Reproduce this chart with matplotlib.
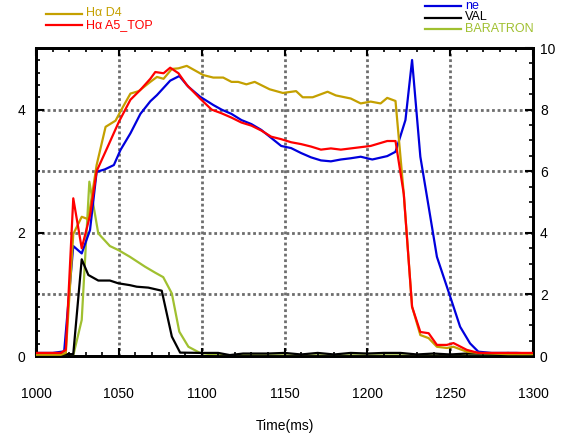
import matplotlib
matplotlib.use("Agg")
import matplotlib.pyplot as plt
from matplotlib.lines import Line2D
from matplotlib.ticker import MultipleLocator

plt.rcParams['font.family'] = ['Liberation Sans', 'DejaVu Sans']

# ---------------- data ----------------
t_d4 = [1000, 1005, 1010, 1015, 1018, 1022.5, 1027.6, 1031.6, 1036.6, 1042, 1048, 1052, 1057, 1062,
        1069, 1073, 1077, 1082, 1086, 1091, 1101, 1107, 1113, 1118, 1122, 1127, 1132, 1141, 1149,
        1157, 1161, 1167, 1171, 1176, 1181, 1190, 1196, 1202, 1208, 1212, 1217, 1222, 1227, 1232,
        1237, 1242, 1248, 1252, 1260, 1267, 1275, 1285, 1300]
v_d4 = [0.02, 0.02, 0.02, 0.02, 0.05, 1.98, 2.26, 2.22, 3.1, 3.72, 3.82, 4.02, 4.26, 4.3,
        4.45, 4.53, 4.5, 4.66, 4.67, 4.71, 4.56, 4.52, 4.52, 4.45, 4.45, 4.41, 4.45, 4.33, 4.27,
        4.3, 4.2, 4.2, 4.24, 4.29, 4.23, 4.18, 4.1, 4.13, 4.1, 4.19, 4.14, 2.63, 0.8, 0.34,
        0.29, 0.15, 0.13, 0.15, 0.07, 0.05, 0.04, 0.03, 0.03]

t_a5 = [1000, 1010, 1015, 1018, 1022.5, 1027.6, 1032.6, 1036.6, 1043, 1050, 1057, 1063, 1069, 1072,
        1077, 1081, 1086, 1091, 1099, 1106, 1112, 1118, 1124, 1130, 1136, 1142, 1148, 1154, 1160,
        1166, 1172, 1178, 1184, 1190, 1196, 1202, 1212, 1217, 1222, 1227, 1232, 1237, 1242, 1248,
        1252, 1260, 1267, 1280, 1300]
v_a5 = [0.05, 0.05, 0.05, 0.1, 2.56, 1.75, 2.28, 3.0, 3.38, 3.8, 4.16, 4.32, 4.5, 4.61,
        4.59, 4.68, 4.59, 4.4, 4.18, 4.0, 3.94, 3.87, 3.79, 3.74, 3.66, 3.56, 3.52, 3.47, 3.44,
        3.40, 3.35, 3.37, 3.35, 3.37, 3.39, 3.41, 3.49, 3.49, 2.63, 0.8, 0.39, 0.37, 0.18, 0.18,
        0.21, 0.1, 0.05, 0.05, 0.05]

t_ne = [1000, 1010, 1017, 1022.5, 1027.6, 1032.6, 1036.6, 1041.6, 1047, 1051, 1057, 1063, 1069, 1073,
        1081, 1086.5, 1092, 1099, 1107, 1112, 1118, 1124, 1130, 1136, 1142, 1148, 1154, 1160, 1166,
        1172, 1178, 1184, 1190, 1196, 1203, 1212, 1217, 1223, 1227, 1232, 1237, 1242, 1250, 1256,
        1262, 1267, 1275, 1290, 1300]
v_ne = [0.1, 0.1, 0.15, 3.57, 3.33, 4.09, 5.98, 6.06, 6.2, 6.69, 7.23, 7.86, 8.27, 8.47,
        8.94, 9.09, 8.74, 8.42, 8.15, 8.0, 7.86, 7.66, 7.53, 7.34, 7.08, 6.82, 6.75, 6.59, 6.45,
        6.35, 6.32, 6.38, 6.42, 6.47, 6.38, 6.49, 6.63, 7.66, 9.61, 6.47, 4.85, 3.22, 1.93, 0.95,
        0.41, 0.14, 0.1, 0.1, 0.08]

t_val = [1000, 1022.5, 1027.6, 1031.6, 1037.6, 1044.6, 1049.7, 1056.7, 1060.8, 1067.8, 1075.9, 1082,
         1087, 1100, 1110, 1117, 1125, 1140, 1150, 1160, 1170, 1180, 1190, 1200, 1210, 1220, 1230,
         1240, 1250, 1260, 1270, 1285, 1300]
v_val = [0.06, 0.06, 3.14, 2.63, 2.45, 2.45, 2.36, 2.3, 2.25, 2.22, 2.12, 0.63,
         0.11, 0.1, 0.1, 0.03, 0.08, 0.08, 0.1, 0.05, 0.1, 0.05, 0.1, 0.08, 0.1, 0.1, 0.05,
         0.08, 0.05, 0.08, 0.08, 0.05, 0.05]

t_bar = [1000, 1022.5, 1027.6, 1032.2, 1037.6, 1044.6, 1049.7, 1056.7, 1065.8, 1071.8, 1076.8, 1082,
         1086.5, 1092, 1099, 1110, 1150, 1200, 1240, 1270, 1285, 1295, 1300]
v_bar = [0.0, 0.02, 1.17, 5.66, 3.98, 3.57, 3.44, 3.22, 2.9, 2.71, 2.56, 2.03,
         0.79, 0.3, 0.1, 0.03, 0.02, 0.02, 0.02, 0.02, 0.1, 0.02, 0.02]

x_ticks = [1000, 1050, 1100, 1150, 1200, 1250, 1300]
left_ticks = [0, 2, 4]
right_ticks = [0, 2, 4, 6, 8, 10]

C_D4 = '#C4A000'
C_A5 = '#FF0000'
C_NE = '#0000DD'
C_VAL = '#000000'
C_BAR = '#A0C030'

# ---------------- figure ----------------
fig = plt.figure(figsize=(5.65, 4.38), dpi=100)
ax = fig.add_axes([36 / 565, 1 - 356 / 438, (533 - 36) / 565, (356 - 48) / 438])
ax2 = ax.twinx()
ax.set_zorder(2)
ax2.set_zorder(1)
ax.patch.set_visible(False)
ax2.patch.set_visible(True)
ax2.patch.set_facecolor('white')

ax.set_xlim(1000, 1300)
ax.set_ylim(0, 5)
ax2.set_ylim(0, 10)

# grid (drawn on lower axes so curves sit on top)
grid_kw = dict(color='#6e6e6e', lw=2.0, ls=(0, (1, 1)), zorder=0)
for gx in x_ticks[1:-1]:
    ax2.axvline(gx, **grid_kw)
for gy in right_ticks[1:-1]:
    ax2.axhline(gy, **grid_kw)

lw = 1.6
ax2.plot(t_bar, v_bar, color=C_BAR, lw=lw, zorder=3)
ax2.plot(t_val, v_val, color=C_VAL, lw=lw, zorder=3)
ax2.plot(t_ne, v_ne, color=C_NE, lw=lw, zorder=4)
ax.plot(t_d4, v_d4, color=C_D4, lw=lw, zorder=3)
ax.plot(t_a5, v_a5, color=C_A5, lw=lw, zorder=4)

# ticks
ax.set_xticks(x_ticks)
ax.xaxis.set_minor_locator(MultipleLocator(10))
ax.set_yticks(left_ticks)
ax.yaxis.set_minor_locator(MultipleLocator(0.2))
ax2.set_yticks(right_ticks)
ax2.yaxis.set_minor_locator(MultipleLocator(0.5))

ax.tick_params(axis='x', which='both', direction='in', top=True, bottom=True)
ax.tick_params(axis='x', which='major', length=6, width=1.5, pad=22, labelsize=10)
ax.tick_params(axis='x', which='minor', length=3, width=1.2)
ax.tick_params(axis='y', which='both', direction='in', left=True, right=False)
ax.tick_params(axis='y', which='major', length=6, width=1.5, pad=8, labelsize=10)
ax.tick_params(axis='y', which='minor', length=3, width=1.2)
ax2.tick_params(axis='y', which='both', direction='in', right=True, left=False)
ax2.tick_params(axis='y', which='major', length=6, width=1.5, pad=5, labelsize=10)
ax2.tick_params(axis='y', which='minor', length=3, width=1.2)

for a in (ax, ax2):
    for s in a.spines.values():
        s.set_linewidth(2)

ax.set_xlabel('Time(ms)', fontsize=10, labelpad=13)

# legends (manual, in figure pixel coords)
def leg(x0, x1, y, color, label):
    fy = 1 - y / 438
    fig.add_artist(Line2D([x0 / 565, x1 / 565], [fy, fy], color=color, lw=1.6))
    fig.text((x1 + 4) / 565, fy, label, color=color, fontsize=9, va='center', ha='left')

leg(46, 82, 13.5, C_D4, 'H\u03b1 D4')
leg(46, 82, 25, C_A5, 'H\u03b1 A5_TOP')
leg(425, 461, 6, C_NE, 'ne')
leg(425, 461, 17.5, C_VAL, 'VAL')
leg(425, 461, 29, C_BAR, 'BARATRON')

fig.savefig('out.png', dpi=100)
